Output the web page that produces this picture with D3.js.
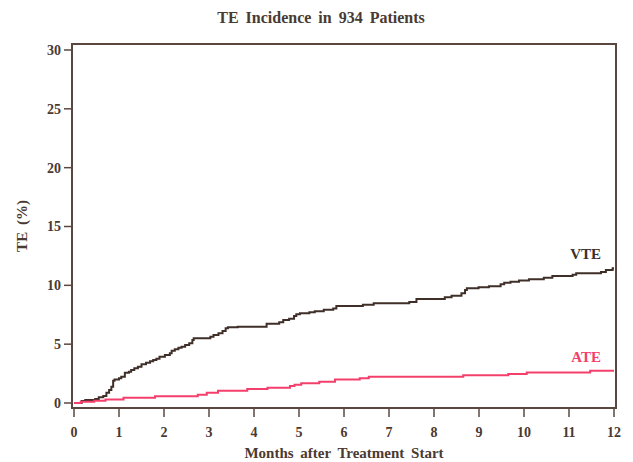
<!DOCTYPE html>
<html>
<head>
<meta charset="utf-8">
<script src="https://cdn.jsdelivr.net/npm/d3@7"></script>
<style>
  html, body { margin: 0; padding: 0; background: #fff; }
  svg { display: block; }
  text { font-family: "Liberation Serif", "DejaVu Serif", serif; font-weight: bold; fill: #4a3a31; }
</style>
</head>
<body>
<svg id="chart" width="633" height="462"></svg>
<script>
// ---- data ----
const title = "TE Incidence in 934 Patients";
const xLabel = "Months after Treatment Start";
const yLabel = "TE (%)";
const xTicks = [0,1,2,3,4,5,6,7,8,9,10,11,12];
const yTicks = [0,5,10,15,20,25,30];
const seriesNames = ["VTE", "ATE"];

const vteMonths = [0, 0.17, 0.25, 0.47, 0.55, 0.65, 0.72, 0.78, 0.83, 0.87, 0.9, 1.0, 1.05, 1.13, 1.22, 1.27, 1.34, 1.42, 1.5, 1.6, 1.69, 1.76, 1.83, 1.9, 2.02, 2.13, 2.17, 2.24, 2.32, 2.39, 2.47, 2.56, 2.63, 2.66, 3.03, 3.1, 3.21, 3.3, 3.37, 3.42, 3.64, 4.28, 4.56, 4.65, 4.78, 4.89, 4.94, 5.02, 5.23, 5.35, 5.55, 5.76, 5.83, 6.42, 6.66, 7.45, 7.61, 8.24, 8.39, 8.61, 8.69, 8.73, 8.99, 9.22, 9.48, 9.56, 9.7, 9.89, 10.11, 10.44, 10.63, 11.08, 11.16, 11.71, 11.82, 11.97, 12];
const vteValues = [0, 0.17, 0.25, 0.35, 0.48, 0.6, 0.88, 1.1, 1.39, 1.9, 2.0, 2.1, 2.24, 2.58, 2.66, 2.8, 2.95, 3.09, 3.29, 3.43, 3.54, 3.65, 3.77, 3.94, 4.08, 4.22, 4.45, 4.56, 4.7, 4.79, 4.93, 5.07, 5.35, 5.5, 5.64, 5.78, 5.92, 6.12, 6.35, 6.43, 6.48, 6.74, 6.86, 7.05, 7.16, 7.39, 7.54, 7.62, 7.71, 7.79, 7.93, 8.03, 8.24, 8.35, 8.47, 8.58, 8.83, 8.98, 9.12, 9.32, 9.6, 9.75, 9.83, 9.92, 10.09, 10.23, 10.31, 10.42, 10.51, 10.65, 10.79, 10.9, 11.02, 11.13, 11.3, 11.45, 11.45];

const ateMonths = [0, 0.15, 0.45, 0.7, 1.1, 1.8, 2.75, 2.95, 3.2, 3.85, 4.3, 4.8, 4.9, 5.05, 5.45, 5.8, 6.35, 6.55, 8.65, 9.65, 10.06, 11.47, 12];
const ateValues = [0, 0.1, 0.2, 0.3, 0.45, 0.57, 0.7, 0.88, 1.05, 1.18, 1.3, 1.44, 1.55, 1.67, 1.81, 2.0, 2.1, 2.24, 2.35, 2.46, 2.6, 2.75, 2.75];

// ---- drawing ----
const svg = d3.select("#chart");
const axisColor = "#5a4840";
const colors = { VTE: "#3f2f28", ATE: "#f43f6c" };

const x = d3.scaleLinear().domain([0, 12]).range([74, 614]);
const y = d3.scaleLinear().domain([0, 30]).range([403, 50]);

// frame
const box = { left: 72, right: 616, top: 44, bottom: 408 };
svg.append("rect")
  .attr("x", box.left).attr("y", box.top)
  .attr("width", box.right - box.left).attr("height", box.bottom - box.top)
  .attr("fill", "none").attr("stroke", axisColor).attr("stroke-width", 2);

// y ticks
const yt = svg.append("g");
yTicks.forEach(t => {
  yt.append("line").attr("x1", box.left - 8).attr("x2", box.left)
    .attr("y1", y(t)).attr("y2", y(t)).attr("stroke", axisColor).attr("stroke-width", 1.5);
  yt.append("text").attr("x", box.left - 11).attr("y", y(t)).attr("dy", "0.35em")
    .attr("text-anchor", "end").attr("font-size", 14).text(t);
});

// x ticks
const xt = svg.append("g");
xTicks.forEach(t => {
  xt.append("line").attr("x1", x(t)).attr("x2", x(t))
    .attr("y1", box.bottom).attr("y2", box.bottom + 9).attr("stroke", axisColor).attr("stroke-width", 1.5);
  xt.append("text").attr("x", x(t)).attr("y", 437)
    .attr("text-anchor", "middle").attr("font-size", 14).text(t);
});

// titles
svg.append("text").attr("x", 321).attr("y", 23).attr("text-anchor", "middle")
  .attr("font-size", 16).attr("word-spacing", 3).text(title);
svg.append("text").attr("x", 344).attr("y", 458).attr("text-anchor", "middle")
  .attr("font-size", 15).attr("word-spacing", 3).text(xLabel);
svg.append("text").attr("transform", "translate(27,226) rotate(-90)").attr("text-anchor", "middle")
  .attr("font-size", 15).attr("word-spacing", 3).text(yLabel);

// curves
const line = d3.line().x(d => x(d[0])).y(d => y(d[1])).curve(d3.curveStepAfter);
const series = [
  { name: seriesNames[0], pts: d3.zip(vteMonths, vteValues), labelY: 259 },
  { name: seriesNames[1], pts: d3.zip(ateMonths, ateValues), labelY: 362 }
];
series.forEach(s => {
  svg.append("path").attr("d", line(s.pts)).attr("fill", "none")
    .attr("stroke", colors[s.name]).attr("stroke-width", 2);
  svg.append("text").attr("x", 601).attr("y", s.labelY).attr("text-anchor", "end")
    .attr("font-size", 15).style("fill", colors[s.name]).text(s.name);
});
</script>
</body>
</html>
